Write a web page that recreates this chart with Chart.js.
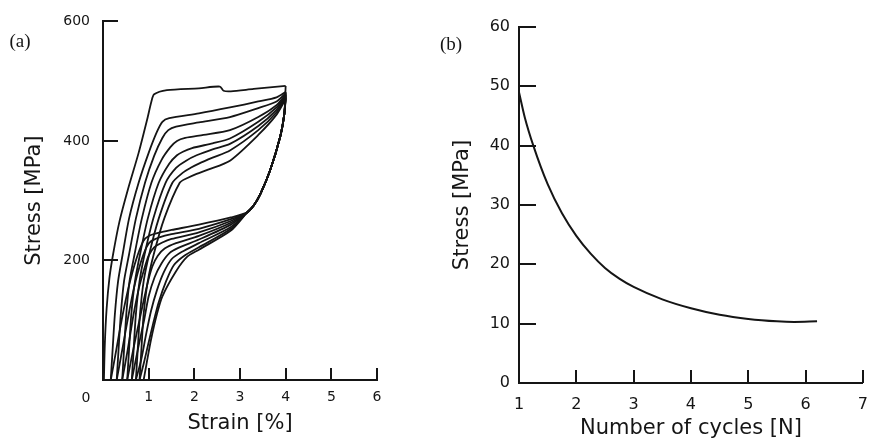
<!DOCTYPE html>
<html>
<head>
<meta charset="utf-8">
<script src="https://cdn.jsdelivr.net/npm/chart.js@4/dist/chart.umd.min.js"></script>
<style>
html, body { margin: 0; padding: 0; background: #fff; overflow: hidden; width: 870px; height: 442px; }
#chartA { position: absolute; left: 0; top: 0; }
#chartB { position: absolute; left: 435px; top: 0; }
</style>
</head>
<body>
<canvas id="chartA" width="435" height="442"></canvas>
<canvas id="chartB" width="445" height="442"></canvas>
<script>
// (a) loading curves, [strain %, stress MPa]
const load1 = [[0.02,0],[0.04,60],[0.08,120],[0.14,170],[0.22,210],[0.36,265],[0.55,320],[0.78,380],[0.98,440],[1.06,466],[1.12,478],[1.4,485],[2.1,488],[2.56,491],[2.64,484],[2.8,483],[3.3,487],[4,492]];
const load2 = [[0.17,0],[0.21,50],[0.26,110],[0.33,165],[0.43,210],[0.57,270],[0.78,330],[1.0,380],[1.18,415],[1.3,432],[1.45,438],[2.1,446],[2.78,456],[3.4,466],[3.8,473],[4,482]];
const load3 = [[0.3,0],[0.34,50],[0.39,110],[0.46,165],[0.57,210],[0.72,270],[0.92,330],[1.12,375],[1.3,405],[1.43,418],[1.6,424],[2.1,431],[2.78,440],[3.4,455],[3.8,466],[4,480]];
const load4 = [[0.42,0],[0.46,50],[0.51,110],[0.58,165],[0.69,210],[0.85,270],[1.06,330],[1.28,368],[1.48,390],[1.62,400],[1.8,405],[2.2,410],[2.78,418],[3.4,440],[3.8,460],[4,478]];
const load5 = [[0.53,0],[0.57,50],[0.62,110],[0.7,165],[0.81,210],[0.98,270],[1.22,330],[1.45,362],[1.62,376],[1.75,382],[1.95,388],[2.4,396],[2.78,404],[3.4,432],[3.8,456],[4,476]];
const load6 = [[0.63,0],[0.67,50],[0.72,110],[0.8,165],[0.91,210],[1.1,270],[1.37,330],[1.6,355],[1.82,367],[2.05,376],[2.4,386],[2.78,395],[3.4,425],[3.8,452],[4,474]];
const load7 = [[0.72,0],[0.76,50],[0.81,110],[0.89,165],[1.01,210],[1.22,270],[1.52,330],[1.75,347],[1.92,355],[2.1,362],[2.4,372],[2.78,384],[3.4,418],[3.8,448],[4,472]];
const load8 = [[0.8,0],[0.84,50],[0.89,110],[0.98,165],[1.11,210],[1.34,270],[1.68,330],[1.85,338],[2.05,345],[2.3,352],[2.78,367],[3.4,410],[3.8,444],[4,470]];

// (a) unloading curves
const unload1 = [[4,492],[3.97,445],[3.88,407],[3.66,351],[3.45,312],[3.3,292],[3.15,280],[2.8,272],[2.1,260],[1.5,251],[1.25,247],[1.0,241],[0.88,232],[0.72,200],[0.56,155],[0.42,105],[0.29,50],[0.17,0]];
const unload2 = [[4,482],[3.97,445],[3.88,407],[3.66,351],[3.45,312],[3.3,292],[3.15,280],[2.8,269],[2.1,253],[1.5,244],[1.25,239],[1.05,232],[0.95,222],[0.82,195],[0.68,155],[0.55,105],[0.42,50],[0.3,0]];
const unload3 = [[4,480],[3.97,445],[3.88,407],[3.66,351],[3.45,312],[3.3,292],[3.15,280],[2.8,266],[2.1,247],[1.5,236],[1.3,230],[1.12,222],[1.0,208],[0.9,185],[0.79,155],[0.67,110],[0.54,50],[0.42,0]];
const unload4 = [[4,478],[3.97,445],[3.88,407],[3.66,351],[3.45,312],[3.3,292],[3.15,280],[2.8,263],[2.1,241],[1.6,229],[1.35,220],[1.2,208],[1.08,190],[0.97,160],[0.84,115],[0.66,50],[0.53,0]];
const unload5 = [[4,476],[3.97,445],[3.88,407],[3.66,351],[3.45,312],[3.3,292],[3.15,280],[2.8,260],[2.1,235],[1.65,221],[1.45,212],[1.28,195],[1.13,172],[1.0,140],[0.9,100],[0.76,50],[0.63,0]];
const unload6 = [[4,474],[3.97,445],[3.88,407],[3.66,351],[3.45,312],[3.3,292],[3.15,280],[2.8,256],[2.1,229],[1.72,214],[1.5,202],[1.33,180],[1.18,150],[1.05,115],[0.94,75],[0.84,35],[0.72,0]];
const unload7 = [[4,472],[3.97,445],[3.88,407],[3.66,351],[3.45,312],[3.3,292],[3.15,280],[2.8,253],[2.1,222],[1.78,208],[1.55,192],[1.38,165],[1.22,130],[1.1,95],[0.99,60],[0.9,30],[0.8,0]];
const unload8 = [[4,470],[3.97,445],[3.88,407],[3.66,351],[3.45,312],[3.3,292],[3.15,280],[2.8,250],[2.1,218],[1.84,206],[1.6,182],[1.3,140],[1.18,110],[1.05,67],[0.96,30],[0.89,0]];

// (b) stress vs number of cycles
const cycles = [1, 1.1, 1.25, 1.5, 1.75, 2, 2.25, 2.5, 2.75, 3, 3.5, 4, 4.5, 5, 5.5, 5.8, 6.2];
const cycleStress = [49, 44.8, 40, 33.5, 28.6, 24.8, 21.8, 19.4, 17.6, 16.2, 14.1, 12.6, 11.5, 10.8, 10.4, 10.3, 10.4];

// tick labels
const strainTicks = [1, 2, 3, 4, 5, 6];
const stressTicksA = [200, 400, 600];
const cycleTicks = [2, 3, 4, 5, 6, 7];
const stressTicksB = [10, 20, 30, 40, 50, 60];

const ink = '#151515';
const sans = 'DejaVu Sans';

const innerTicks = {
    id: 'innerTicks',
    afterDraw(chart, args, opts) {
        const { ctx, chartArea, scales: { x, y } } = chart;
        ctx.save();
        ctx.strokeStyle = ink;
        ctx.lineWidth = 2;
        ctx.beginPath();
        opts.xTicks.forEach(v => {
            const px = Math.round(x.getPixelForValue(v));
            ctx.moveTo(px, chartArea.bottom);
            ctx.lineTo(px, chartArea.bottom - opts.xLen);
        });
        opts.yTicks.forEach(v => {
            const py = Math.round(y.getPixelForValue(v));
            ctx.moveTo(chartArea.left, py);
            ctx.lineTo(chartArea.left + opts.yLen, py);
        });
        ctx.stroke();
        ctx.fillStyle = ink;
        ctx.textAlign = 'center';
        ctx.textBaseline = 'middle';
        (opts.texts || []).forEach(t => {
            ctx.font = t.font;
            ctx.fillText(t.text, t.x(chart), t.y(chart));
        });
        ctx.restore();
    }
};

const curve = pairs => ({
    data: pairs.map(([x, y]) => ({ x, y })),
    showLine: true,
    borderColor: ink,
    borderWidth: 1.8,
    pointRadius: 0,
    tension: 0.25,
    fill: false
});

new Chart(document.getElementById('chartA'), {
    type: 'scatter',
    data: {
        datasets: [load1, load2, load3, load4, load5, load6, load7, load8,
            unload1, unload2, unload3, unload4, unload5, unload6, unload7, unload8].map(curve)
    },
    options: {
        responsive: false,
        animation: false,
        layout: { padding: { top: 16, right: 58, bottom: 0, left: 0 } },
        plugins: {
            legend: { display: false },
            tooltip: { enabled: false },
            innerTicks: {
                xTicks: strainTicks, yTicks: stressTicksA, xLen: 12, yLen: 15,
                texts: [
                    { text: '(a)', font: '19px "Liberation Serif"', x: () => 20, y: () => 42 },
                    { text: '0', font: `14px "${sans}"`, x: c => c.scales.x.getPixelForValue(0) - 17, y: c => c.chartArea.bottom + 18 }
                ]
            }
        },
        scales: {
            x: {
                type: 'linear', min: 0, max: 6,
                afterFit: s => { s.height = 62; },
                grid: { drawOnChartArea: false, drawTicks: false },
                border: { color: ink, width: 2 },
                ticks: { stepSize: 1, padding: 9, color: ink, font: { family: sans, size: 14 },
                    callback: v => strainTicks.includes(v) ? String(v) : '' },
                title: { display: true, text: 'Strain [%]', color: ink, font: { family: sans, size: 21 }, padding: { top: 0, bottom: 6 } }
            },
            y: {
                type: 'linear', min: 0, max: 600,
                afterFit: s => { s.width = 103; },
                grid: { drawOnChartArea: false, drawTicks: false },
                border: { color: ink, width: 2 },
                ticks: { stepSize: 200, padding: 13, color: ink, font: { family: sans, size: 14 },
                    callback: v => stressTicksA.includes(v) ? String(v) : '' },
                title: { display: true, text: 'Stress [MPa]', color: ink, font: { family: sans, size: 21 }, padding: { top: 22, bottom: 0 } }
            }
        }
    },
    plugins: [innerTicks]
});

new Chart(document.getElementById('chartB'), {
    type: 'scatter',
    data: {
        datasets: [{
            data: cycles.map((n, i) => ({ x: n, y: cycleStress[i] })),
            showLine: true,
            borderColor: ink,
            borderWidth: 2,
            pointRadius: 0,
            cubicInterpolationMode: 'monotone',
            fill: false
        }]
    },
    options: {
        responsive: false,
        animation: false,
        layout: { padding: { top: 27, right: 6, bottom: 0, left: 0 } },
        plugins: {
            legend: { display: false },
            tooltip: { enabled: false },
            innerTicks: {
                xTicks: cycleTicks, yTicks: stressTicksB, xLen: 13, yLen: 17,
                texts: [
                    { text: '(b)', font: '19px "Liberation Serif"', x: () => 16, y: () => 45 }
                ]
            }
        },
        scales: {
            x: {
                type: 'linear', min: 1, max: 7,
                afterFit: s => { s.height = 59; },
                grid: { drawOnChartArea: false, drawTicks: false },
                border: { color: ink, width: 2 },
                ticks: { stepSize: 1, padding: 12, color: ink, font: { family: sans, size: 16 } },
                title: { display: true, text: 'Number of cycles [N]', color: ink, font: { family: sans, size: 21 }, padding: { top: 0, bottom: 1 } }
            },
            y: {
                type: 'linear', min: 0, max: 60,
                afterFit: s => { s.width = 84; },
                grid: { drawOnChartArea: false, drawTicks: false },
                border: { color: ink, width: 2 },
                ticks: { stepSize: 10, padding: 9, color: ink, font: { family: sans, size: 16 } },
                title: { display: true, text: 'Stress [MPa]', color: ink, font: { family: sans, size: 21 }, padding: { top: 15, bottom: 0 } }
            }
        }
    },
    plugins: [innerTicks]
});
</script>
</body>
</html>
